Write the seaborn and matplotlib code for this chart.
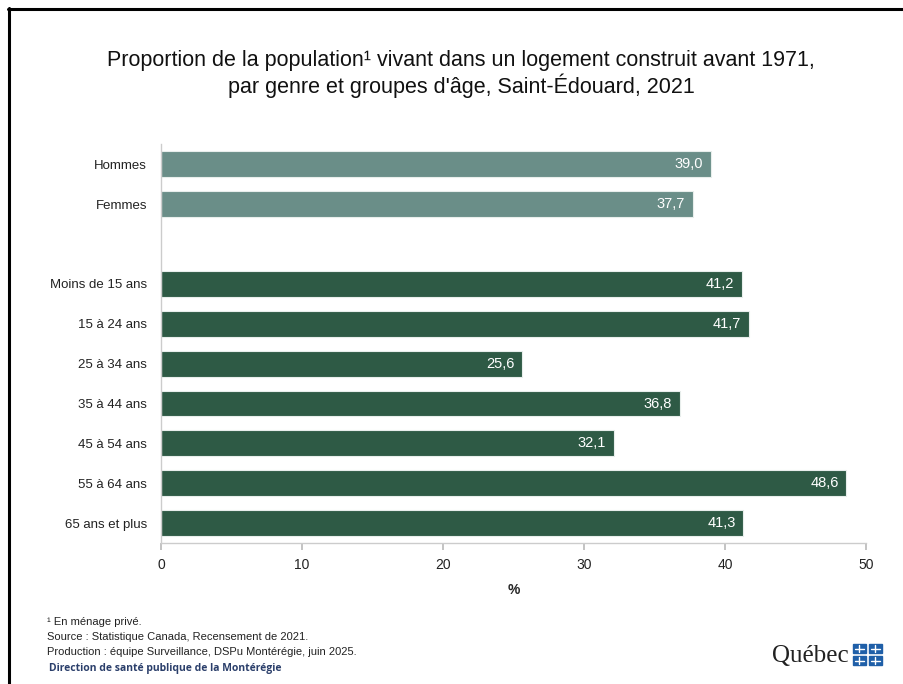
import matplotlib

matplotlib.use("Agg")
import matplotlib.pyplot as plt
import matplotlib.patches as mpatches
import pandas as pd
import seaborn as sns

# données
categories = ["Hommes", "Femmes", "Moins de 15 ans", "15 à 24 ans", "25 à 34 ans",
              "35 à 44 ans", "45 à 54 ans", "55 à 64 ans", "65 ans et plus"]
groupes = ["genre", "genre", "age", "age", "age", "age", "age", "age", "age"]
valeurs = [39.0, 37.7, 41.2, 41.7, 25.6, 36.8, 32.1, 48.6, 41.3]
x_ticks = [0, 10, 20, 30, 40, 50]

sns.set_theme(style="white")
plt.rcParams["font.family"] = ["Liberation Sans", "DejaVu Sans"]

df = pd.DataFrame({"categorie": categories, "groupe": groupes, "valeur": valeurs})
# une case vide entre genre et âge
ordre = categories[:2] + [" "] + categories[2:]

fig = plt.figure(figsize=(9.04, 6.84), dpi=100)
ax = fig.add_axes([0.178, 0.206, 0.780, 0.583])

sns.barplot(
    data=df, y="categorie", x="valeur", hue="groupe", order=ordre,
    palette={"genre": "#6a8e88", "age": "#2e5a45"}, dodge=False, saturation=1,
    width=0.65, legend=False, ax=ax, linewidth=0.8, edgecolor="#e8eeec",
)

# étiquettes de valeur à l'intérieur des barres, alignées à droite
for cont in ax.containers:
    for bar, v in zip(cont, cont.datavalues):
        if pd.isna(v):
            continue
        ax.text(v - 0.55, bar.get_y() + bar.get_height() / 2, f"{v:.1f}".replace(".", ","),
                ha="right", va="center", color="white", fontsize=10.5)

ax.set_xlim(0, 50)
ax.set_xticks(x_ticks)
ax.set_xticklabels([str(t) for t in x_ticks], fontsize=10, color="#222222")
ax.set_xlabel("%", fontsize=10, fontweight="bold", labelpad=8)
ax.set_ylabel("")
ax.set_yticks(range(len(ordre)))
ax.set_yticklabels(ordre, fontsize=9.5, color="#222222")
ax.tick_params(axis="y", length=0, pad=10)
ax.tick_params(axis="x", length=5, color="#bbbbbb", bottom=True, pad=6)
for side in ["top", "right"]:
    ax.spines[side].set_visible(False)
for side in ["left", "bottom"]:
    ax.spines[side].set_color("#cccccc")
    ax.spines[side].set_linewidth(1)

# titre
fig.text(0.51, 1 - 74 / 684, "Proportion de la population¹ vivant dans un logement construit avant 1971,\n"
         "par genre et groupes d'âge, Saint-Édouard, 2021",
         ha="center", va="center", fontsize=15.5, linespacing=1.15,
         family=["Liberation Sans Narrow", "Liberation Sans", "DejaVu Sans"], color="#111111")

# notes
notes = ["¹ En ménage privé.",
         "Source : Statistique Canada, Recensement de 2021.",
         "Production : équipe Surveillance, DSPu Montérégie, juin 2025."]
for i, n in enumerate(notes):
    fig.text(0.052, 1 - (622 + i * 15) / 684, n, fontsize=8, va="center", color="#222222")
fig.text(0.054, 1 - 669 / 684, "Direction de santé publique de la Montérégie",
         fontsize=7.5, fontweight="bold", va="center", color="#2b3f6b",
         family=["Open Sans", "DejaVu Sans"])

# logo Québec
fig.text(849 / 904, 1 - 656 / 684, "Québec", fontsize=18, va="center", ha="right",
         family=["Liberation Serif", "DejaVu Serif"], color="#222222")
for dx in [0, 1]:
    for dy in [0, 1]:
        x0 = (853 + dx * 16) / 904
        y0 = 1 - (665 - dy * 12) / 684
        fig.add_artist(mpatches.Rectangle((x0, y0), 13 / 904, 9 / 684,
                                          transform=fig.transFigure, color="#1f5fa8"))
        fig.add_artist(plt.Line2D([x0 + 2 / 904, x0 + 11 / 904], [y0 + 4.5 / 684, y0 + 4.5 / 684],
                                  transform=fig.transFigure, color="white", lw=1))
        fig.add_artist(plt.Line2D([x0 + 6.5 / 904, x0 + 6.5 / 904], [y0 + 1 / 684, y0 + 8 / 684],
                                  transform=fig.transFigure, color="white", lw=1))

# cadre noir
fig.add_artist(plt.Line2D([9 / 904, 9 / 904], [0, 1 - 8 / 684], transform=fig.transFigure,
                          color="black", lw=2.2))
fig.add_artist(plt.Line2D([8 / 904, 1], [1 - 9 / 684, 1 - 9 / 684], transform=fig.transFigure,
                          color="black", lw=2.2))

fig.savefig("out.png", dpi=100)
